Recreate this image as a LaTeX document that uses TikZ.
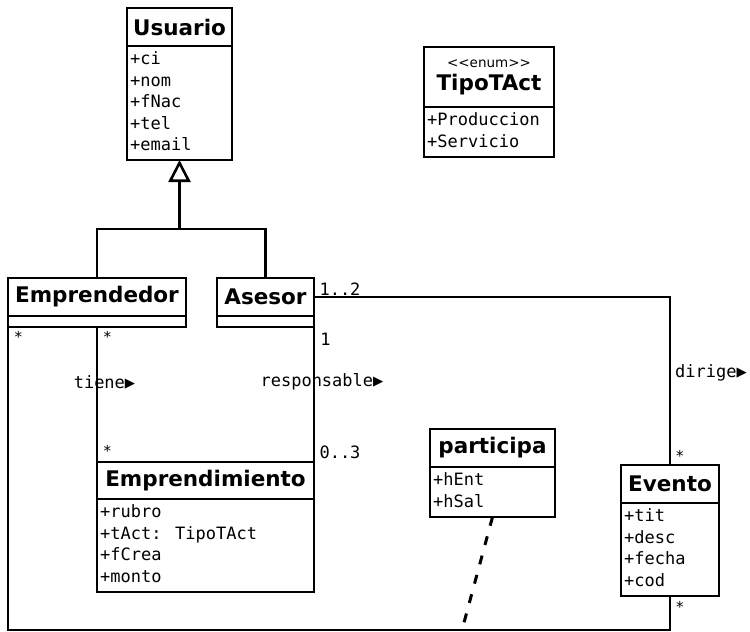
\documentclass[tikz,border=0pt]{standalone}
\usepackage{fontspec}
\setmainfont{DejaVu Sans}
\newfontfamily\monof{DejaVu Sans Mono}
\newfontfamily\sansplain{DejaVu Sans}
\usetikzlibrary{arrows.meta,calc}
\tikzset{
  boxttl/.style={draw, line width=2.8pt, inner sep=0pt, outer sep=0pt, anchor=north west,
    font=\bfseries\fontsize{21.5}{24}\selectfont, align=center},
  boxatt/.style={draw, line width=2.8pt, inner sep=0pt, outer sep=0pt, anchor=north west},
  atttxt/.style={font=\monof\fontsize{17}{21.5}\selectfont, align=left, inner sep=0pt, anchor=north west},
  conn/.style={line width=2.6pt},
  dashline/.style={line width=3pt, dash pattern=on 9pt off 11pt},
  lbl/.style={font=\monof\fontsize{17}{20}\selectfont, inner sep=0pt},
  mult/.style={font=\monof\fontsize{15}{17}\selectfont, inner sep=0pt},
}
\begin{document}
\begin{tikzpicture}[x=1pt,y=-1pt]
\useasboundingbox (0,0) rectangle (750,632);

% Usuario
\node[boxttl, minimum width=105pt, minimum height=38pt] (u) at (127,8) {Usuario};
\node[boxatt, minimum width=105pt, minimum height=114pt] (uA) at (u.south west) {};
\node[atttxt] (uT) at ($(uA.north west)+(3,3.5)$) {+ci\strut\\+nom\strut\\+fNac\strut\\+tel\strut\\+email\strut};

% TipoTAct
\node[boxttl, minimum width=130pt, minimum height=60pt] (t) at (424,47)
  {{\sansplain\mdseries\fontsize{13.5}{17}\selectfont <<enum>>}\\[-1pt]TipoTAct};
\node[boxatt, minimum width=130pt, minimum height=50pt] (tA) at (t.south west) {};
\node[atttxt] (tT) at ($(tA.north west)+(3,3.5)$) {+Produccion\strut\\+Servicio\strut};

% Emprendedor
\node[boxttl, minimum width=178pt, minimum height=38pt] (emp) at (8,278) {Emprendedor};
\node[boxatt, minimum width=178pt, minimum height=11pt] (empA) at (emp.south west) {};

% Asesor
\node[boxttl, minimum width=97pt, minimum height=38pt] (ase) at (217,278) {Asesor};
\node[boxatt, minimum width=97pt, minimum height=11pt] (aseA) at (ase.south west) {};

% Emprendimiento
\node[boxttl, minimum width=217pt, minimum height=37pt] (emi) at (97,462) {Emprendimiento};
\node[boxatt, minimum width=217pt, minimum height=93pt] (emiA) at (emi.south west) {};
\node[atttxt] (emiT) at ($(emiA.north west)+(3,3.5)$) {+rubro\strut\\+tAct: TipoTAct\strut\\+fCrea\strut\\+monto\strut};

% participa
\node[boxttl, minimum width=125pt, minimum height=38pt] (p) at (430,429) {participa};
\node[boxatt, minimum width=125pt, minimum height=50pt] (pA) at (p.south west) {};
\node[atttxt] (pT) at ($(pA.north west)+(3,3.5)$) {+hEnt\strut\\+hSal\strut};

% Evento
\node[boxttl, minimum width=98pt, minimum height=38pt] (ev) at (621,465) {Evento};
\node[boxatt, minimum width=98pt, minimum height=93pt] (evA) at (ev.south west) {};
\node[atttxt] (evT) at ($(evA.north west)+(3,3.5)$) {+tit\strut\\+desc\strut\\+fecha\strut\\+cod\strut};

% helper coordinates
\coordinate (gy) at (0,229);
\coordinate (gj) at (uA.south |- gy);
\coordinate (y630) at (0,630);
\coordinate (bot) at (evA.south |- y630);
\coordinate (pm) at (462,630);

% generalization
\draw[conn] (emp.north) |- (gj) -| (ase.north);
\draw[conn, -{Triangle[open, length=22pt, width=22pt]}] (gj) -- (uA.south);

% tiene
\draw[conn] (empA.south) -- (empA.south |- emi.north);
% responsable
\draw[conn] (aseA.south east) -- (aseA.south east |- emi.north);
% dirige
\draw[conn] (ase.east) -| (ev.north);
% Emprendedor -- Evento
\draw[conn] (empA.south west) |- (bot) -- (evA.south);
% association class participa
\draw[dashline] (pA.south) -- (pm);

% labels
\node[lbl] (l1) at (104.5,382) {tiene▶};
\node[lbl] (l2) at (322,382) {responsable▶};
\node[lbl] (l3) at (711,373) {dirige▶};
\node[lbl] (m1) at (340,289) {1..2};
\node[lbl] (m2) at (325.5,339) {1};
\node[lbl] (m3) at (340,452) {0..3};
\node[mult] (s1) at (18.5,337) {*};
\node[mult] (s2) at (107.5,337) {*};
\node[mult] (s3) at (107.5,451) {*};
\node[mult] (s4) at (680,456) {*};
\node[mult] (s5) at (680,607) {*};
\end{tikzpicture}
\end{document}
